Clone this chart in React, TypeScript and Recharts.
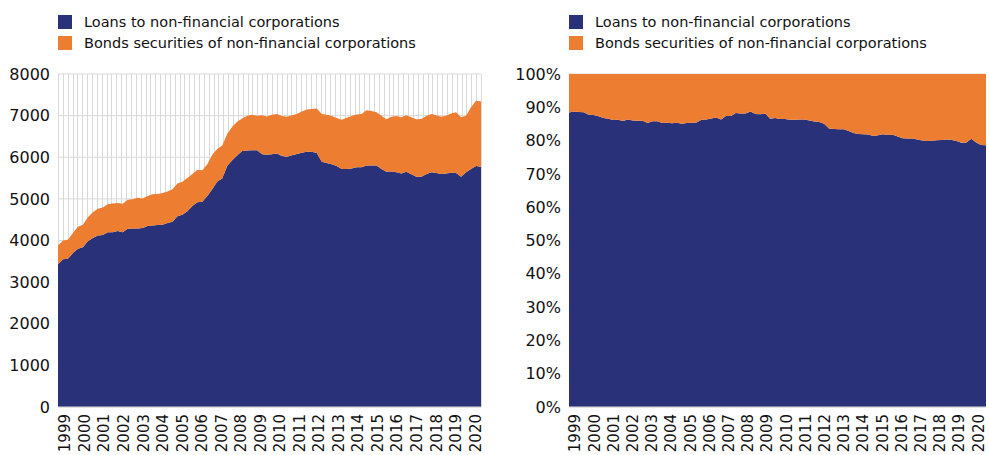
import React from "react";
import { AreaChart, Area, XAxis, YAxis, CartesianGrid } from "recharts";

// quarterly, 1999Q1 .. 2020Q2
const years = [
  1999, 2000, 2001, 2002, 2003, 2004, 2005, 2006, 2007, 2008, 2009, 2010,
  2011, 2012, 2013, 2014, 2015, 2016, 2017, 2018, 2019, 2020,
];

const loans = [
  3430, 3550, 3560, 3700, 3800, 3840, 3980, 4060, 4120, 4130, 4200, 4200,
  4230, 4200, 4280, 4290, 4290, 4300, 4350, 4360, 4370, 4380, 4420, 4450,
  4580, 4620, 4700, 4830, 4920, 4930, 5070, 5230, 5420, 5490, 5790, 5930,
  6040, 6150, 6160, 6170, 6170, 6070, 6060, 6070, 6090, 6030, 6010, 6050,
  6080, 6110, 6130, 6130, 6100, 5890, 5860, 5830, 5790, 5720, 5720, 5730,
  5760, 5760, 5800, 5800, 5800, 5720, 5650, 5660, 5640, 5610, 5650, 5590,
  5530, 5530, 5590, 5640, 5620, 5600, 5610, 5630, 5620, 5530, 5640, 5720,
  5790, 5770,
];

const bonds = [
  450, 450, 460, 480, 530, 540, 580, 620, 640, 660, 670, 690,
  670, 680, 700, 700, 740, 710, 720, 750, 750, 760, 760, 780,
  790, 790, 800, 770, 780, 760, 760, 830, 780, 790, 770, 800,
  810, 780, 840, 850, 830, 940, 920, 950, 950, 960, 960, 960,
  960, 990, 1020, 1030, 1070, 1150, 1160, 1160, 1150, 1180, 1230, 1260,
  1270, 1280, 1330, 1310, 1280, 1280, 1260, 1310, 1350, 1350, 1360, 1370,
  1380, 1390, 1400, 1400, 1390, 1370, 1390, 1420, 1460, 1430, 1360, 1480,
  1570, 1570,
];

const quarters: string[] = [];
years.forEach((y) => {
  for (let q = 1; q <= 4; q++) quarters.push(`${y}Q${q}`);
});

const data = loans.map((l, i) => ({
  quarter: quarters[i],
  loans: l,
  bonds: bonds[i],
}));

const valueTicks = [0, 1000, 2000, 3000, 4000, 5000, 6000, 7000, 8000];
const shareTicks = [0, 0.1, 0.2, 0.3, 0.4, 0.5, 0.6, 0.7, 0.8, 0.9, 1];

const NAVY = "#293178";
const ORANGE = "#ed7d31";
const GRID = "#d9d9d9";
const FONT = "'DejaVu Sans', sans-serif";
const TEXT = "#111";

const legendItems = [
  { label: "Loans to non-financial corporations", color: NAVY },
  { label: "Bonds securities of non-financial corporations", color: ORANGE },
];

const LegendBox = ({ left }: { left: number }) => (
  <div
    style={{
      position: "absolute",
      left,
      top: 11,
      fontFamily: FONT,
      fontSize: 14.5,
      color: TEXT,
    }}
  >
    {legendItems.map((it) => (
      <div
        key={it.label}
        style={{ display: "flex", alignItems: "center", height: 21.5 }}
      >
        <div
          style={{
            width: 14,
            height: 14,
            background: it.color,
            marginRight: 12,
          }}
        />
        <span style={{ whiteSpace: "nowrap" }}>{it.label}</span>
      </div>
    ))}
  </div>
);

// year labels sit slightly inside the plot edges, like the source
const makeYearTick = (startShift: number, endShift: number) => (props: any) => {
  const { x, y, payload } = props;
  const idx = Math.max(0, quarters.indexOf(payload.value));
  const last = quarters.length - 2;
  const tx = x + startShift + ((endShift - startShift) * idx) / last;
  return (
    <text
      x={tx}
      y={y}
      transform={`rotate(-90 ${tx} ${y})`}
      textAnchor="end"
      dy="0.36em"
      fontFamily={FONT}
      fontSize={15}
      fill={TEXT}
    >
      {String(payload.value).slice(0, 4)}
    </text>
  );
};

const LeftYearTick = makeYearTick(7, -1);
const RightYearTick = makeYearTick(6, -3);

const quarterLines = ({ offset }: any) => {
  const n = quarters.length - 1;
  const out: number[] = [];
  for (let i = 0; i <= n; i++)
    out.push(Math.round(offset.left + (i * offset.width) / n) + 0.5);
  return out;
};

const yTick = { fontFamily: FONT, fontSize: 16, fill: TEXT };

export default function App() {
  return (
    <div
      style={{
        position: "absolute",
        left: 0,
        top: 0,
        width: 989,
        height: 455,
        background: "#fff",
        overflow: "hidden",
      }}
    >
      <LegendBox left={58} />
      <LegendBox left={569} />
      <div style={{ position: "absolute", left: 0, top: 0 }}>
        <AreaChart
          width={500}
          height={455}
          data={data}
          margin={{ top: 74, right: 19, bottom: 0, left: 8 }}
        >
          <CartesianGrid
            stroke={GRID}
            strokeWidth={1}
            verticalCoordinatesGenerator={quarterLines}
          />
          <XAxis
            dataKey="quarter"
            interval={3}
            tick={<LeftYearTick />}
            tickLine={false}
            tickSize={0}
            tickMargin={7}
            axisLine={{ stroke: GRID }}
            height={48}
          />
          <YAxis
            domain={[0, 8000]}
            ticks={valueTicks}
            width={50}
            tick={yTick}
            tickLine={false}
            tickSize={0}
            tickMargin={8}
            axisLine={false}
          />
          <Area
            type="linear"
            dataKey="loans"
            stackId="1"
            fill={NAVY}
            fillOpacity={1}
            stroke="none"
            isAnimationActive={false}
          />
          <Area
            type="linear"
            dataKey="bonds"
            stackId="1"
            fill={ORANGE}
            fillOpacity={1}
            stroke="none"
            isAnimationActive={false}
          />
        </AreaChart>
      </div>
      <div style={{ position: "absolute", left: 500, top: 0 }}>
        <AreaChart
          width={489}
          height={455}
          data={data}
          stackOffset="expand"
          margin={{ top: 74, right: 3, bottom: 0, left: 8 }}
        >
          <CartesianGrid stroke={GRID} vertical={false} />
          <XAxis
            dataKey="quarter"
            interval={3}
            tick={<RightYearTick />}
            tickLine={false}
            tickSize={0}
            tickMargin={7}
            axisLine={{ stroke: GRID }}
            height={48}
          />
          <YAxis
            domain={[0, 1]}
            ticks={shareTicks}
            tickFormatter={(v: number) => `${Math.round(v * 100)}%`}
            width={61}
            tick={yTick}
            tickLine={false}
            tickSize={0}
            tickMargin={8}
            axisLine={false}
          />
          <Area
            type="linear"
            dataKey="loans"
            stackId="1"
            fill={NAVY}
            fillOpacity={1}
            stroke="none"
            isAnimationActive={false}
          />
          <Area
            type="linear"
            dataKey="bonds"
            stackId="1"
            fill={ORANGE}
            fillOpacity={1}
            stroke="none"
            isAnimationActive={false}
          />
        </AreaChart>
      </div>
    </div>
  );
}
